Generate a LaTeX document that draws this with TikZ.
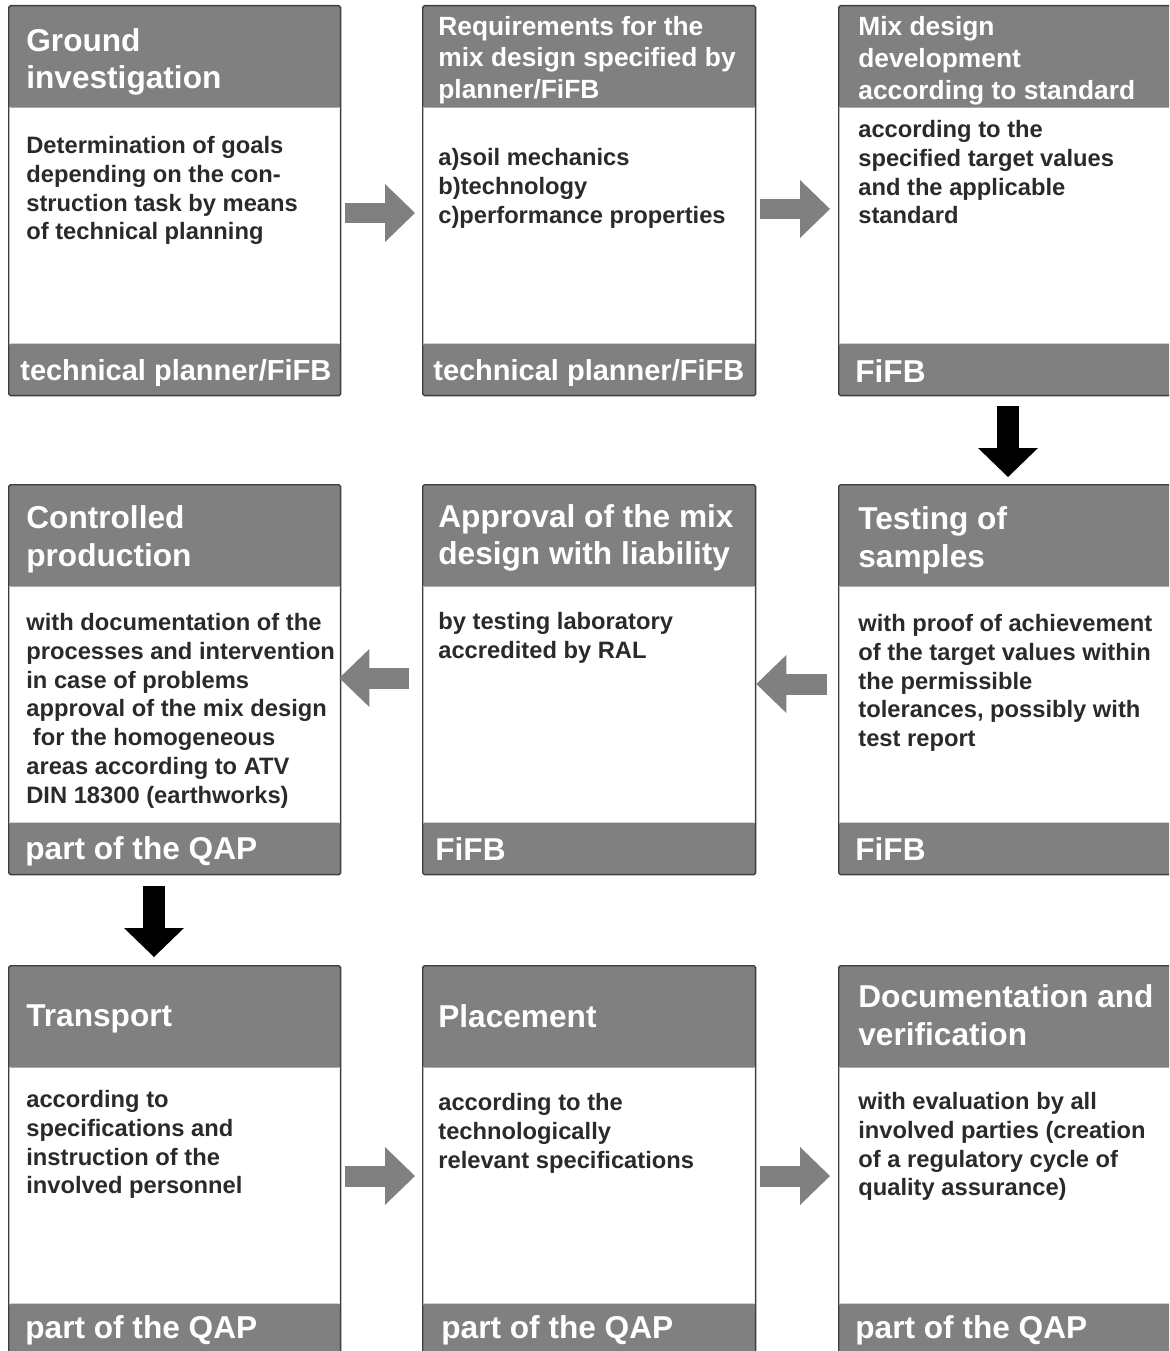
\documentclass[tikz,border=0pt]{standalone}
\usepackage{fontspec}
\setmainfont{Liberation Sans}
\usetikzlibrary{arrows.meta, calc}
\definecolor{hdrgray}{RGB}{128,128,128}
\definecolor{edgegray}{RGB}{62,62,62}
\definecolor{txtgray}{RGB}{42,42,42}

\begin{document}
\begin{tikzpicture}[x=0.02cm, y=-0.02cm,
  ttl/.style={anchor=west, inner sep=0, align=left, text=white, font=\bfseries\fontsize{18}{21.5}\selectfont},
  ttlsm/.style={ttl, font=\bfseries\fontsize{15}{18.1}\selectfont},
  txt/.style={anchor=north west, inner sep=0, align=left, text=txtgray, font=\bfseries\fontsize{13.5}{16.4}\selectfont},
  ftr/.style={anchor=west, inner sep=0, text=white, font=\bfseries\fontsize{18}{21.5}\selectfont}]
\tikzstyle{box}=[rectangle, draw=edgegray, line width=0.8pt, rounded corners=1pt, anchor=north west,
  minimum height=7.8cm, inner sep=0,
  path picture={\fill[hdrgray] (path picture bounding box.north west) rectangle ([yshift=-2.04cm]path picture bounding box.north east);
    \fill[hdrgray] (path picture bounding box.south west) rectangle ([yshift=1.04cm]path picture bounding box.south east);}]
\tikzstyle{garr}=[draw=hdrgray, line width=0.42cm, -{Triangle[width=1.16cm, length=0.6cm, line width=0pt]}]
\tikzstyle{barr}=[draw=black, line width=0.44cm, -{Triangle[width=1.2cm, length=0.58cm, line width=0pt]}]
\useasboundingbox (0,0) rectangle (1169,1351);
\clip (0,0) rectangle (1169,1351);
\foreach \n/\x/\y/\w in {gi/8/5/6.64, req/422/5/6.66, mix/838/5/6.8, prod/8/484/6.64, appr/422/484/6.66, test/838/484/6.8, trans/8/965/6.64, place/422/965/6.66, doc/838/965/6.8}{\node[box, minimum width=\w cm] (\n) at (\x,\y) {};}
% first row
\node[ttl] (gi-t) at ($(gi.north west)+(18,57)$) {Ground\\investigation};
\node[txt] (gi-b) at ($(gi.north west)+(18,131)$) {Determination of goals\\depending on the con-\\struction task by means\\of technical planning};
\node[ftr, font=\bfseries\fontsize{16.5}{19}\selectfont] (gi-f) at ($(gi.south west)+(12,-23)$) {technical planner/FiFB};
\node[ttlsm] (req-t) at ($(req.north west)+(16,55)$) {Requirements for the\\mix design specified by\\planner/FiFB};
\node[txt] (req-b) at ($(req.north west)+(16,143)$) {a)soil mechanics\\b)technology\\c)performance properties};
\node[ftr, font=\bfseries\fontsize{16.5}{19}\selectfont] (req-f) at ($(req.south west)+(11,-23)$) {technical planner/FiFB};
\node[ttlsm] (mix-t) at ($(mix.north west)+(20,56)$) {Mix design\\development\\according to standard};
\node[txt] (mix-b) at ($(mix.north west)+(20,115)$) {according to the\\specified target values\\and the applicable\\standard};
\node[ftr] (mix-f) at ($(mix.south west)+(17,-25)$) {FiFB};
% second row
\node[ttl] (prod-t) at ($(prod.north west)+(18,55)$) {Controlled\\production};
\node[txt] (prod-b) at ($(prod.north west)+(18,129)$) {with documentation of the\\processes and intervention\\in case of problems\\approval of the mix design\\\ for the homogeneous\\areas according to ATV\\DIN 18300 (earthworks)};
\node[ftr] (prod-f) at ($(prod.south west)+(17,-24)$) {part of the QAP};
\node[ttl] (appr-t) at ($(appr.north west)+(16,54)$) {Approval of the mix\\design with liability};
\node[txt] (appr-b) at ($(appr.north west)+(16,128)$) {by testing laboratory\\accredited by RAL};
\node[ftr] (appr-f) at ($(appr.south west)+(13,-26)$) {FiFB};
\node[ttl] (test-t) at ($(test.north west)+(20,56)$) {Testing of\\samples};
\node[txt] (test-b) at ($(test.north west)+(20,130)$) {with proof of achievement\\of the target values within\\the permissible\\tolerances, possibly with\\test report};
\node[ftr] (test-f) at ($(test.south west)+(17,-26)$) {FiFB};
% third row
\node[ttl] (trans-t) at ($(trans.north west)+(18,54)$) {Transport};
\node[txt] (trans-b) at ($(trans.north west)+(18,125)$) {according to\\specifications and\\instruction of the\\involved personnel};
\node[ftr] (trans-f) at ($(trans.south west)+(17,-26)$) {part of the QAP};
\node[ttl] (place-t) at ($(place.north west)+(16,51)$) {Placement};
\node[txt] (place-b) at ($(place.north west)+(16,128)$) {according to the\\technologically\\relevant specifications};
\node[ftr] (place-f) at ($(place.south west)+(19,-26)$) {part of the QAP};
\node[ttl] (doc-t) at ($(doc.north west)+(20,50)$) {Documentation and\\verification};
\node[txt] (doc-b) at ($(doc.north west)+(20,127)$) {with evaluation by all\\involved parties (creation\\of a regulatory cycle of\\quality assurance)};
\node[ftr] (doc-f) at ($(doc.south west)+(17,-26)$) {part of the QAP};
% arrows
\draw[garr, shorten <=0.08cm, shorten >=0.14cm] (gi.east |- 0,213) -- (req.west |- 0,213);
\draw[garr, shorten <=0.08cm, shorten >=0.16cm] (req.east |- 0,209) -- (mix.west |- 0,209);
\draw[barr, shorten <=0.2cm, shorten >=0.14cm] (mix.south west -| 1008,0) -- (test.north west -| 1008,0);
\draw[garr, shorten <=0.22cm] (test.west |- 0,684) -- (appr.east |- 0,684);
\draw[garr, shorten <=0.26cm, shorten >=-0.04cm] (appr.west |- 0,678) -- (prod.east |- 0,678);
\draw[barr, shorten <=0.22cm, shorten >=0.16cm] (prod.south -| 154,0) -- (trans.north -| 154,0);
\draw[garr, shorten <=0.08cm, shorten >=0.14cm] (trans.east |- 0,1176) -- (place.west |- 0,1176);
\draw[garr, shorten <=0.08cm, shorten >=0.16cm] (place.east |- 0,1176) -- (doc.west |- 0,1176);
\end{tikzpicture}
\end{document}
